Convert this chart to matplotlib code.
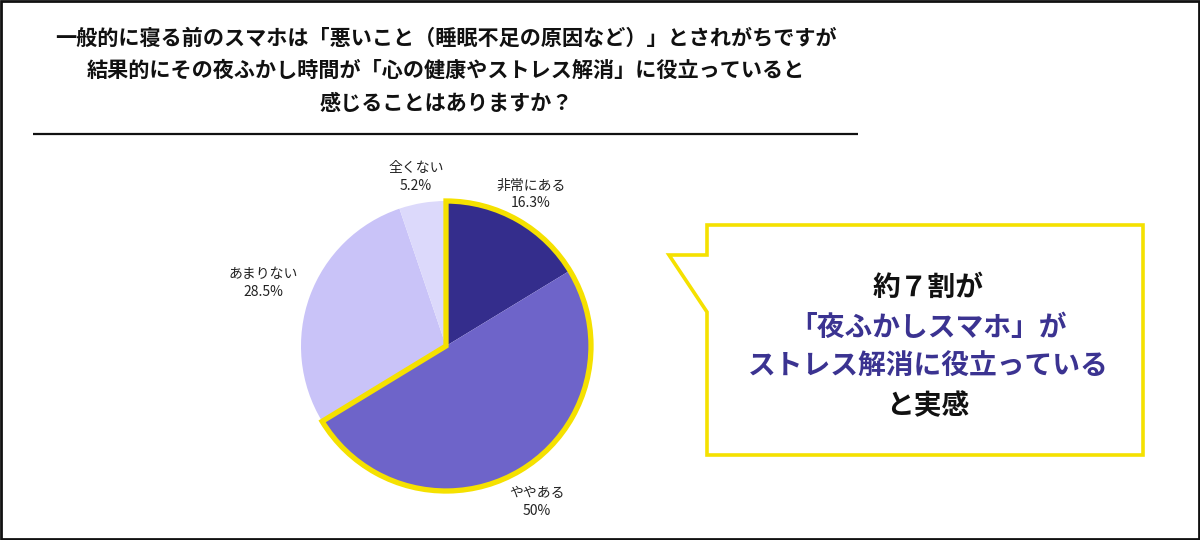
import matplotlib
matplotlib.use("Agg")
import matplotlib.pyplot as plt
from matplotlib.patches import Wedge, Polygon, Rectangle

plt.rcParams['font.family'] = ['Noto Sans CJK JP', 'DejaVu Sans']

# ---- data ----
categories = ["非常にある", "ややある", "あまりない", "全くない"]
values = [16.3, 50.0, 28.5, 5.2]
value_labels = ["16.3%", "50%", "28.5%", "5.2%"]
colors = ["#342d8c", "#6e64c9", "#c9c3f8", "#dcd9fb"]
highlight_n = 2  # first two slices highlighted

title_lines = [
    "一般的に寝る前のスマホは「悪いこと（睡眠不足の原因など）」とされがちですが",
    "結果的にその夜ふかし時間が「心の健康やストレス解消」に役立っていると",
    "感じることはありますか？",
]
callout_lines = [
    ("約７割が", "#111111"),
    ("「夜ふかしスマホ」が", "#3b3391"),
    ("ストレス解消に役立っている", "#3b3391"),
    ("と実感", "#111111"),
]

W, H = 1200, 540
fig = plt.figure(figsize=(W / 100, H / 100), dpi=100)
fig.patch.set_facecolor("white")

# overlay axes in pixel coordinates
ov = fig.add_axes([0, 0, 1, 1])
ov.set_xlim(0, W)
ov.set_ylim(H, 0)
ov.axis("off")

# outer frame
ov.add_patch(Rectangle((1, 1), W - 2.5, H - 2.5, fill=False, edgecolor="#111111", lw=2))

# title
for i, t in enumerate(title_lines):
    ov.text(446, 38 + i * 32.5, t, ha="center", va="center", fontsize=15.2,
            fontweight="bold", color="#111111")
ov.plot([33, 858], [134, 134], color="#111111", lw=1.6, solid_capstyle="butt")

# pie axes
cx, cy, r = 446, 346, 145
half = 160
pax = fig.add_axes([(cx - half) / W, 1 - (cy + half) / H, 2 * half / W, 2 * half / H])
pax.pie(values, colors=colors, startangle=90, counterclock=False, radius=1.0,
        wedgeprops=dict(linewidth=0))
hl_frac = sum(values[:highlight_n]) / sum(values)
pax.add_patch(Wedge((0, 0), 1.0, 90 - 360 * hl_frac, 90, fill=False,
                    edgecolor="#f5e100", lw=3.8, joinstyle="miter"))
lim = half / r
pax.set_xlim(-lim, lim)
pax.set_ylim(-lim, lim)
pax.set_aspect("equal")
pax.axis("off")

# slice labels
label_pos = [(531, 194), (537, 502), (263, 283), (416, 177)]
for (x, y), c, v in zip(label_pos, categories, value_labels):
    ov.text(x, y, c + "\n" + v, ha="center", va="center", fontsize=10,
            color="#222222", linespacing=1.3)

# callout box
yel = "#f5e100"
bx0, by0, bx1, by1 = 707, 225, 1143, 455
ov.add_patch(Polygon([(bx0, 255), (bx0, by0), (bx1, by0), (bx1, by1), (bx0, by1), (bx0, 312),
                      (669, 255)], closed=True, facecolor="white", edgecolor=yel, lw=2.6,
                     joinstyle="miter"))
for i, (t, c) in enumerate(callout_lines):
    ov.text(928, 288 + i * 39.5, t, ha="center", va="center", fontsize=20,
            fontweight="bold", color=c)

fig.savefig("out.png", dpi=100)
